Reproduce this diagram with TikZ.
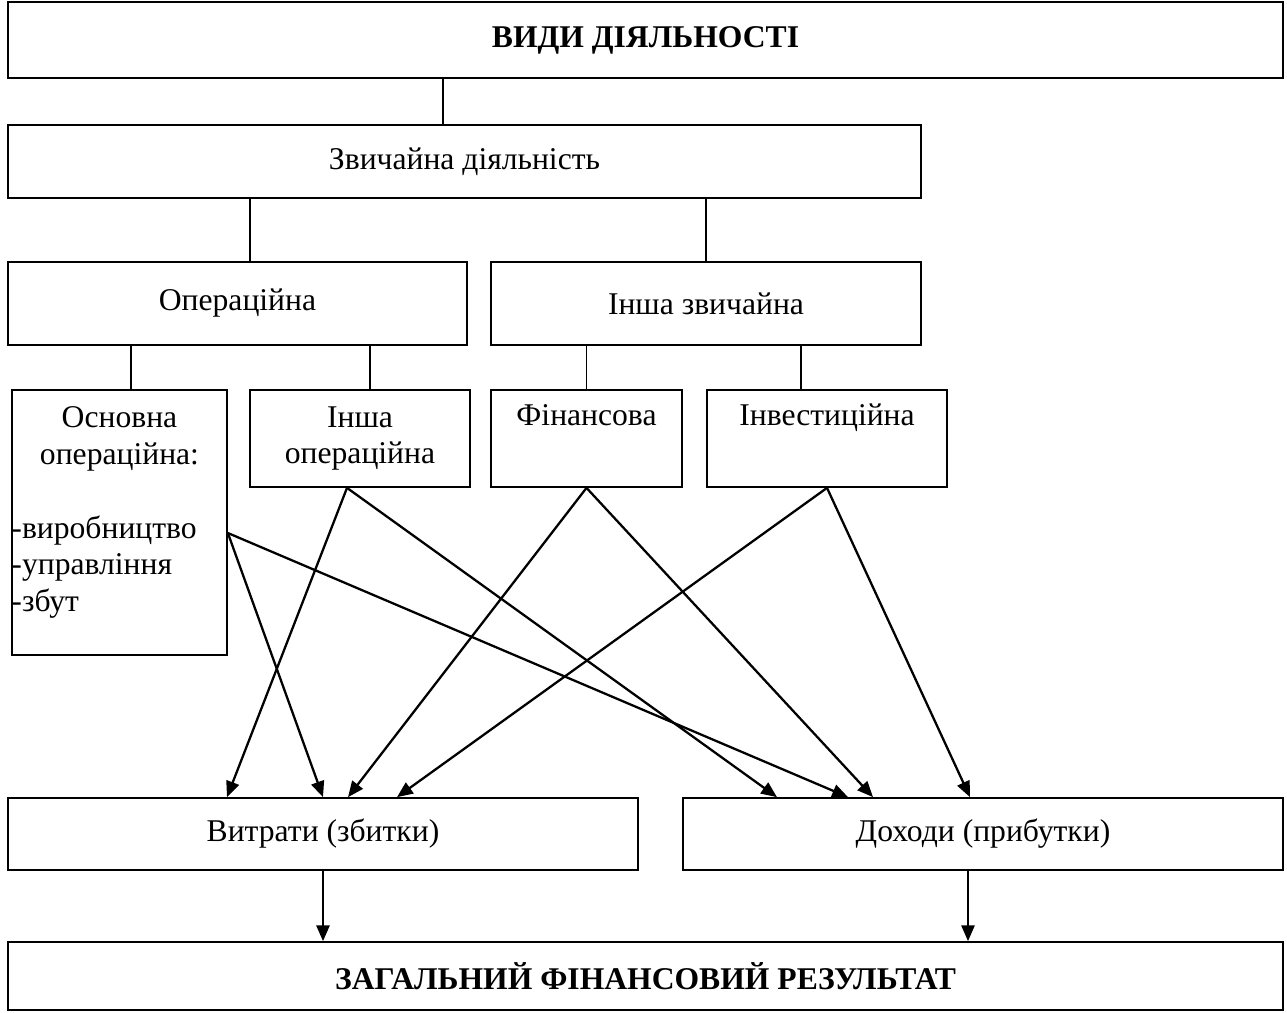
\documentclass[tikz,border=0pt]{standalone}
\usepackage{fontspec}
\setmainfont{Liberation Serif}
\usetikzlibrary{arrows.meta}

\tikzset{
  box/.style={draw, line width=1pt, inner sep=0pt, align=center},
  link/.style={line width=1pt},
  flow/.style={line width=1.3pt, -{Triangle[length=9pt,width=7.5pt]}},
}

\begin{document}
\begin{tikzpicture}[x=0.02cm,y=-0.02cm]
  \fontsize{18}{21}\selectfont % affects all text in this picture
  \useasboundingbox (0,0) rectangle (1287,1012);
  % upper levels
  \node[box,minimum width=25.5cm,minimum height=1.52cm,font=\bfseries]
  (kinds) at (645.5,40) {ВИДИ ДІЯЛЬНОСТІ};
  \node[box,minimum width=18.26cm,minimum height=1.46cm] (usual) at
  (464.5,161.5) {Звичайна діяльність};
  \node[box,minimum width=9.18cm,minimum height=1.66cm] (oper) at
  (237.5,303.5) {Операційна};
  \node[box,minimum width=8.6cm,minimum height=1.66cm] (inother) at
  (706,303.5) {Інша звичайна};
  % kinds of activity
  \node[box,minimum width=4.3cm,minimum height=5.3cm] (basic) at
  (119.5,522.5) {};
  \node[align=center] (basictxt) at (basic.north |- 0,439) {Основна\\операційна:};
  \node[align=left,anchor=west,inner sep=0pt] (basiclist) at (basic.west |-
  0,567) {-виробництво\\-управління\\-збут};
  \node[box,minimum width=4.4cm,minimum height=1.94cm] (otherop) at
  (360,438.5) {Інша\\операційна};
  \node[box,minimum width=3.82cm,minimum height=1.94cm] (fin) at
  (586.5,438.5) {Фінансова\\\strut};
  \node[box,minimum width=4.8cm,minimum height=1.94cm] (invest) at
  (827,438.5) {Інвестиційна\\\strut};
  % results
  \node[box,minimum width=12.6cm,minimum height=1.44cm] (costs) at
  (323,834) {Витрати (збитки)};
  \node[box,minimum width=12cm,minimum height=1.44cm] (income) at
  (983,834) {Доходи (прибутки)};
  \node[box,minimum width=25.5cm,minimum height=1.36cm,font=\bfseries]
  (total) at (645.5,976) {ЗАГАЛЬНИЙ ФІНАНСОВИЙ РЕЗУЛЬТАТ};
  % tree lines
  \draw[link] (kinds.south -| 443,0) -- (usual.north -| 443,0);
  \draw[link] (usual.south -| 250,0) -- (oper.north -| 250,0);
  \draw[link] (usual.south -| inother.north) -- (inother.north);
  \draw[link] (oper.south -| 131,0) -- (basic.north -| 131,0);
  \draw[link] (oper.south -| 370,0) -- (otherop.north -| 370,0);
  \draw[link] (inother.south -| fin.north) -- (fin.north);
  \draw[link] (inother.south -| 801,0) -- (invest.north -| 801,0);
  % arrows to costs and income
  \coordinate (basicout) at (basic.east |- 0,533);
  \coordinate (otherout) at (otherop.south -| 347,0);
  \draw[flow] (basicout) -- (costs.north -| 323,0);
  \draw[flow] (basicout) -- (income.north -| 848,0);
  \draw[flow] (otherout) -- (costs.north -| 227,0);
  \draw[flow] (otherout) -- (income.north -| 777,0);
  \draw[flow] (fin.south) -- (costs.north -| 348,0);
  \draw[flow] (fin.south) -- (income.north -| 873,0);
  \draw[flow] (invest.south) -- (costs.north -| 397,0);
  \draw[flow] (invest.south) -- (income.north -| 970,0);
  % total result
  \draw[flow] (costs.south) -- (total.north -| costs.south);
  \draw[flow] (income.south -| 968,0) -- (total.north -| 968,0);
\end{tikzpicture}
\end{document}
